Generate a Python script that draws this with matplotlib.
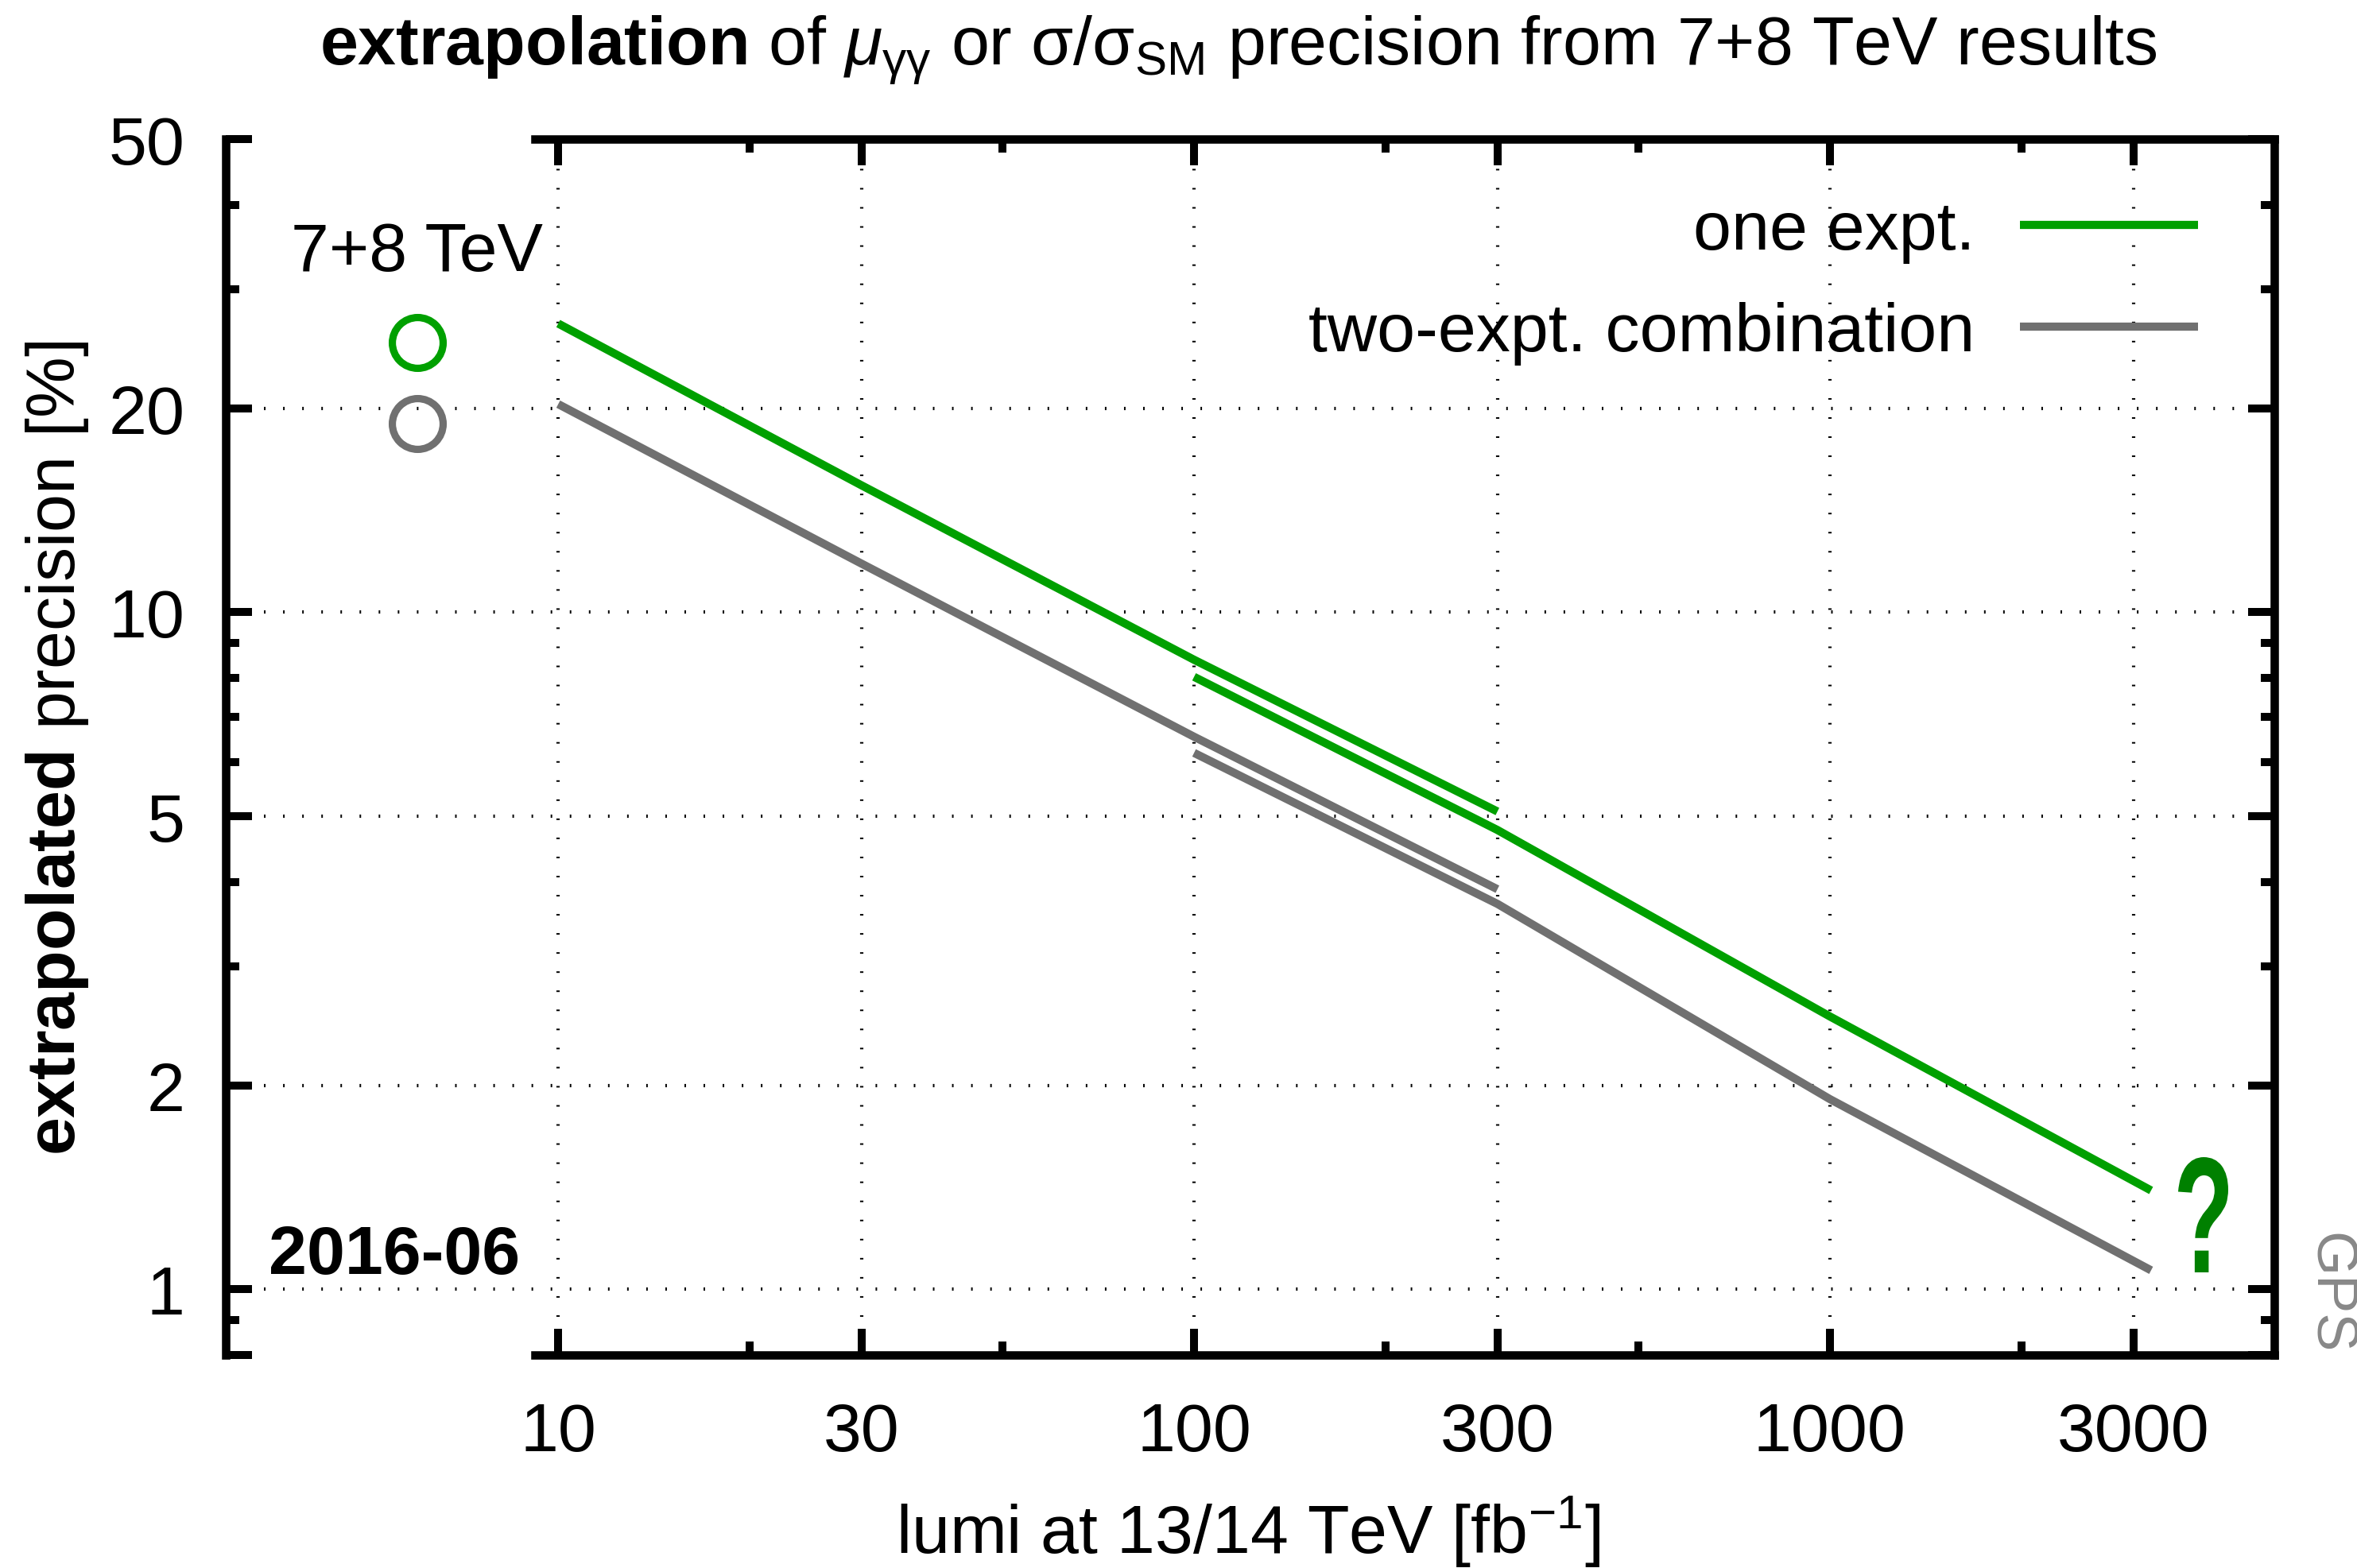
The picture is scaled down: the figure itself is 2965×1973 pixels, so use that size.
import matplotlib
matplotlib.use("Agg")
import matplotlib.pyplot as plt
from matplotlib.textpath import TextPath
from matplotlib.patches import PathPatch
from matplotlib.font_manager import FontProperties
from matplotlib.transforms import Affine2D

plt.rcParams['font.family'] = ['Liberation Sans', 'DejaVu Sans']
plt.rcParams['mathtext.fontset'] = 'custom'
plt.rcParams['mathtext.rm'] = 'Liberation Sans'
plt.rcParams['mathtext.it'] = 'Liberation Sans:italic'
plt.rcParams['mathtext.bf'] = 'Liberation Sans:bold'

# datos leidos del grafico
# extrapolacion Run 2 (10 - 300 fb-1)
lumi_run2 = [10, 30, 100, 300]
one_expt_run2 = [26.7, 15.4, 8.51, 5.08]
two_expt_run2 = [20.3, 11.8, 6.55, 3.90]

# extrapolacion HL-LHC (100 - 3000 fb-1)
lumi_hl = [100, 300, 1000, 3200]
one_expt_hl = [8.03, 4.77, 2.53, 1.40]
two_expt_hl = [6.20, 3.71, 1.91, 1.067]

run1_x = 6
run1_one = 25.0
run1_two = 19.0

xticks = [10, 30, 100, 300, 1000, 3000]
xminor = [20, 50, 200, 500, 2000]
yticks = [0.8, 1, 2, 5, 10, 20, 50]
ylabels = ['', '1', '2', '5', '10', '20', '50']
yminor = [0.9, 3, 4, 6, 7, 8, 9, 30, 40]
ygrid = [1, 2, 5, 10, 20]

GREEN = '#00a000'
GRAY = '#707070'
W, H = 2965, 1974
FS = 31

fig = plt.figure(figsize=(W / 200, H / 200), dpi=200)
ax = fig.add_axes([284 / W, 1 - 1706 / H, (2861 - 284) / W, (1706 - 176) / H])
ax.set_xscale('log')
ax.set_yscale('log')
ax.set_xlim(3, 5000)
ax.set_ylim(0.8, 50)

# rejilla punteada
dots = (0, (0.47, 5.3))
for x in xticks:
    ax.axvline(x, color='k', lw=1.5, ls=dots, zorder=1)
for y in ygrid:
    ax.axhline(y, color='k', lw=1.5, ls=dots, zorder=1)

lw = 3.7
ax.plot(lumi_run2, one_expt_run2, color=GREEN, lw=lw, solid_capstyle='butt', label='one expt.', zorder=3)
ax.plot(lumi_run2, two_expt_run2, color=GRAY, lw=lw, solid_capstyle='butt', label='two-expt. combination', zorder=3)
ax.plot(lumi_hl, one_expt_hl, color=GREEN, lw=lw, solid_capstyle='butt', zorder=3)
ax.plot(lumi_hl, two_expt_hl, color=GRAY, lw=lw, solid_capstyle='butt', zorder=3)

ax.plot([run1_x], [run1_one], 'o', mfc='none', mec=GREEN, ms=23, mew=3.3, zorder=3)
ax.plot([run1_x], [run1_two], 'o', mfc='none', mec=GRAY, ms=23, mew=3.3, zorder=3)
ax.text(run1_x, 32, '7+8 TeV', ha='center', va='baseline', fontsize=FS)

ax.text((338 - 284) / 2577, (1706 - 1603) / 1530, '2016-06', transform=ax.transAxes,
        fontsize=FS, fontweight='bold', ha='left', va='baseline')

# ejes
for s in ax.spines.values():
    s.set_linewidth(3.8)
ax.spines['top'].set_bounds(9.2, 5000)
ax.spines['bottom'].set_bounds(9.2, 5000)

ax.set_xticks(xticks, [str(v) for v in xticks])
ax.set_xticks(xminor, minor=True)
ax.set_yticks(yticks, ylabels)
ax.set_yticks(yminor, minor=True)
ax.xaxis.set_minor_formatter(plt.NullFormatter())
ax.yaxis.set_minor_formatter(plt.NullFormatter())
ax.tick_params(which='both', direction='in', top=True, right=True, width=3.6, labelsize=FS)
ax.tick_params(which='major', length=12)
ax.tick_params(which='minor', length=6)
ax.tick_params(axis='x', which='major', pad=21)
ax.tick_params(axis='y', which='major', pad=18.5)

ax.legend(loc='upper right', bbox_to_anchor=(0.9627, 0.950), frameon=False, markerfirst=False,
          handlelength=2.6, handletextpad=0.66, labelspacing=0.55, borderpad=0,
          borderaxespad=0, fontsize=FS)

fig.text(1558 / W, 1 - 80 / H,
         r'$\mathbf{extrapolation}$ of $\mu_{\mathrm{\gamma\gamma}}$ or σ/σ$_{\mathrm{SM}}$ precision from 7+8 TeV results',
         ha='center', va='baseline', fontsize=FS)
fig.text(72 / W, 1 - 941 / H, r'$\mathbf{extrapolated}$ precision [%]', rotation=90,
         ha='center', va='center', fontsize=FS)
fig.text(1570 / W, 1 - 1955 / H, r'lumi at 13/14 TeV [fb$^{\mathrm{-1}}$]',
         ha='center', va='baseline', fontsize=FS)
fig.text(2930 / W, 1 - 1704 / H, 'GPS', rotation=-90, color='#888888',
         ha='center', va='bottom', fontsize=26)

# signo de interrogacion estirado
fp = FontProperties(family='Liberation Sans', weight='bold')
tp = TextPath((0, 0), '?', size=1, prop=fp)
ext = tp.get_extents()
tr = (Affine2D().translate(-ext.x0, -ext.y0)
      .scale((63 / W) / ext.width, (145 / H) / ext.height)
      .translate(2740 / W, 1 - 1602 / H) + fig.transFigure)
fig.add_artist(PathPatch(tp, transform=tr, facecolor='#008000', lw=0))

fig.savefig('out.png', dpi=200)
